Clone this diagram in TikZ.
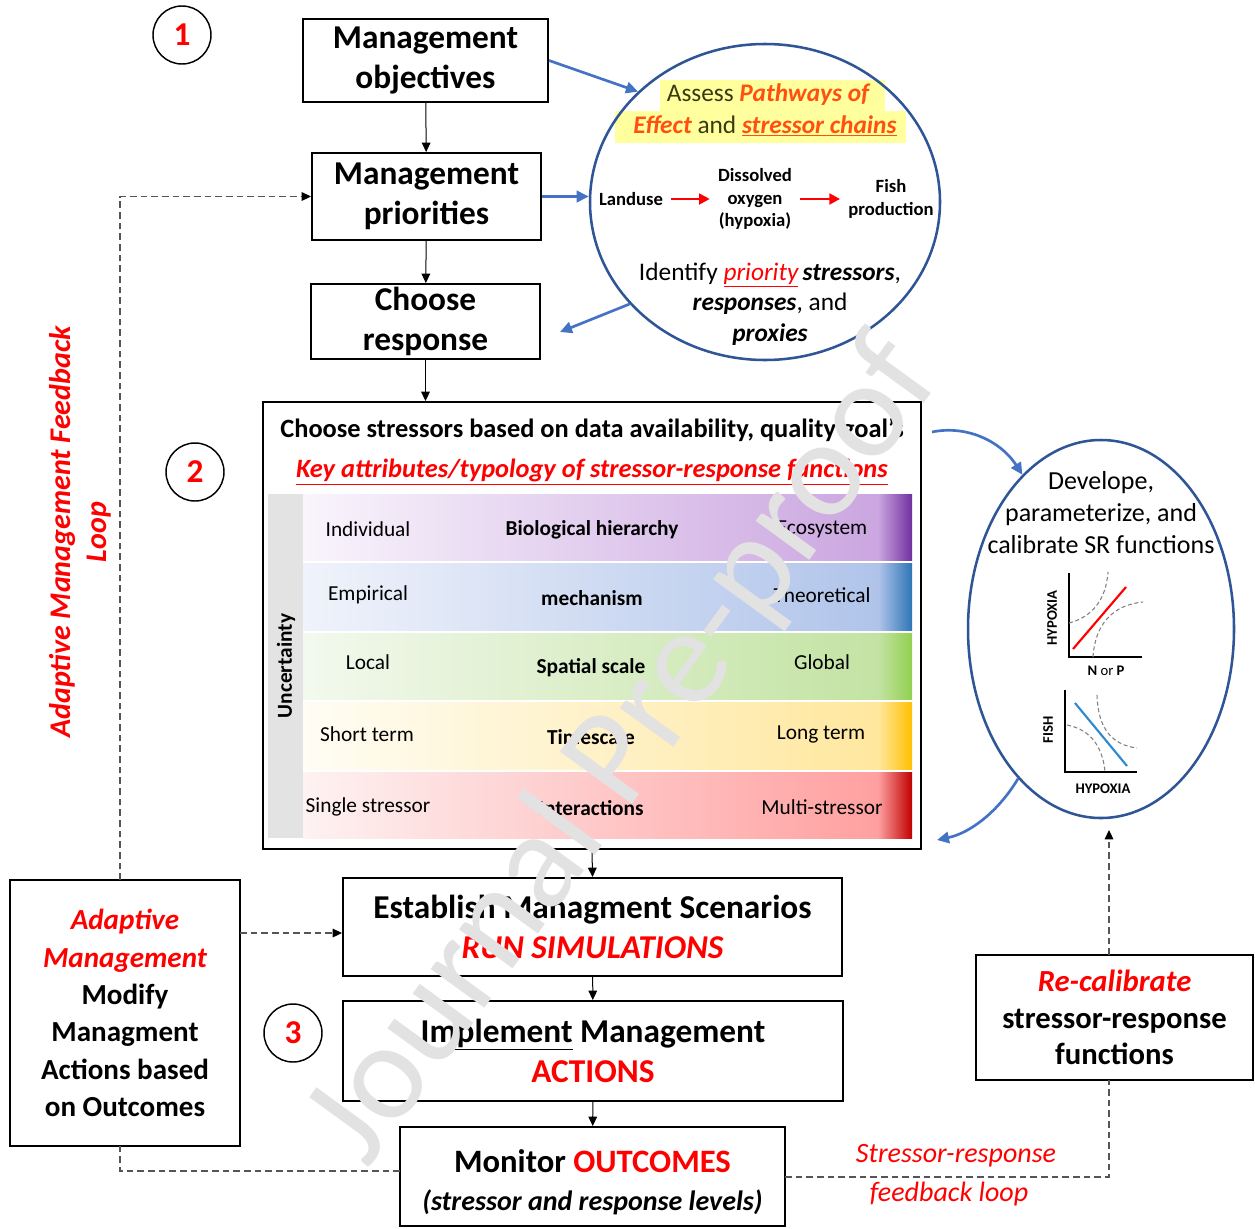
\documentclass[tikz,border=0pt]{standalone}
\usepackage{fontspec}
\setmainfont{Carlito}
\usetikzlibrary{shapes.geometric,arrows.meta}
\definecolor{cblue}{HTML}{2F5597}
\definecolor{ablue}{HTML}{4472C4}
\definecolor{lblue}{HTML}{2E8BD0}
\definecolor{cred}{HTML}{FF0000}
\definecolor{corng}{HTML}{FF5010}
\definecolor{colive}{HTML}{3A3A10}
\definecolor{hlyel}{HTML}{FFFF9E}
\definecolor{dgray}{HTML}{555555}
\definecolor{ugray}{HTML}{E3E3E3}
\definecolor{wmgray}{HTML}{E2E2E2}
\definecolor{pL}{HTML}{F9F5FC}\definecolor{pM}{HTML}{CBA6E0}\definecolor{pD}{HTML}{7030A0}
\definecolor{bL}{HTML}{F0F3FB}\definecolor{bM}{HTML}{B0C4EA}\definecolor{bD}{HTML}{2E75B6}
\definecolor{gL}{HTML}{F3F9EE}\definecolor{gM}{HTML}{C3E3A3}\definecolor{gD}{HTML}{92D050}
\definecolor{yL}{HTML}{FFFDF4}\definecolor{yM}{HTML}{FFE79E}\definecolor{yD}{HTML}{FFC000}
\definecolor{rL}{HTML}{FEF2F2}\definecolor{rM}{HTML}{FFA0A0}\definecolor{rD}{HTML}{C00000}
\newcommand\fs[2]{\fontsize{#1}{#2}\selectfont}
\newcommand\rowband[5]{%
  \shade[left color=#3, right color=#4] (303,#1) rectangle (878,#2);
  \shade[left color=#4, right color=#5] (878,#1) rectangle (912,#2);}
\begin{document}
\begin{tikzpicture}[x=0.75pt,y=-0.75pt,
  box/.style={draw, line width=1.5pt, align=center, inner sep=0pt, text=black},
  num/.style={draw, circle, line width=1.1pt, minimum size=43.5pt, inner sep=0pt, text=cred, font=\fs{25}{30}\bfseries},
  arr/.style={-{Triangle[length=7pt,width=6.5pt]}, line width=0.75pt},
  barr/.style={-{Triangle[length=9pt,width=8.5pt]}, ablue, line width=2pt},
  rarr/.style={-{Triangle[length=8pt,width=8pt]}, cred, line width=2pt},
  dsh/.style={dgray, line width=0.8pt, dash pattern=on 5pt off 3pt},
  darr/.style={dsh, -{Triangle[length=7pt,width=6.5pt,color=black]}},
  rowtxt/.style={font=\fs{16}{19}},
  rowhd/.style={font=\fs{16}{19}\bfseries},
  chain/.style={font=\fs{14}{17}\bfseries, align=center, inner sep=6pt},
  glab/.style={font=\fs{11}{13}\bfseries, inner sep=0pt},
  gdash/.style={gray, line width=0.8pt, dash pattern=on 3pt off 2pt}]
\fill[white] (0,0) rectangle (1255,1228);
\useasboundingbox (0,0) rectangle (1255,1228);

% numbered circles
\node[num] (n1) at (182,35) {1};
\node[num] (n2) at (195,472) {2};
\node[num] (n3) at (293,1033) {3};

% top boxes
\node[box, minimum width=183.75pt, minimum height=62.25pt, font=\fs{25}{30}\bfseries] (obj) at (425.5,60.5) {Management\\objectives};
\node[box, minimum width=171.75pt, minimum height=65.25pt, font=\fs{25}{30}\bfseries] (pri) at (426.5,196.5) {Management\\priorities};
\node[box, minimum width=171.75pt, minimum height=56.25pt, font=\fs{25}{30}\bfseries] (cho) at (425.5,321.5) {Choose\\response};

% top ellipse
\fill[hlyel] (660,80) rectangle (885,111);
\fill[hlyel] (615,111) rectangle (906,143);
\node[draw=cblue, line width=1.9pt, ellipse, minimum width=262.5pt, minimum height=237pt, inner sep=0pt] (circA) at (765,202) {};
\node[font=\fs{19}{22}, text=colive] (as1) at (768,95) {Assess \textcolor{corng}{\bfseries\itshape Pathways of}};
\node[font=\fs{19}{22}, text=colive] (as2) at (765,126) {\textcolor{corng}{\bfseries\itshape Effect} and \textcolor{corng}{\bfseries\itshape\underline{stressor chains}}};
\node[chain] (land) at (631,199) {Landuse};
\node[chain] (diss) at (755,199) {Dissolved\\oxygen\\(hypoxia)};
\node[chain] (fish) at (891,199) {Fish\\production};
\draw[rarr] (land) -- (diss);
\draw[rarr] (diss) -- (fish);
\node[font=\fs{19}{23}, align=center] (ident) at (770,304) {Identify \textcolor{cred}{\itshape\underline{priority}}\,\textbf{\textit{stressors}},\\ \textbf{\textit{responses}}, and\\ \textbf{\textit{proxies}}};

% table
\node[box, minimum width=493.5pt, minimum height=335.25pt] (tab) at (592,625.5) {};
\node[font=\fs{19.8}{23}\bfseries] (ttl) at (592,430) {Choose stressors based on data availability, quality goal's};
\node[font=\fs{19.8}{23}\bfseries\itshape, text=cred] (key) at (592,472) {\underline{Key attributes/typology of stressor-response functions}};
\fill[ugray] (268,494) rectangle (303,838);
\node[rotate=90, font=\fs{16}{19}\bfseries] (unc) at (286,666) {Uncertainty};
\rowband{494}{560}{pL}{pM}{pD}
\rowband{563}{630}{bL}{bM}{bD}
\rowband{633}{699}{gL}{gM}{gD}
\rowband{702}{769}{yL}{yM}{yD}
\rowband{772}{838}{rL}{rM}{rD}
\node[rowtxt] (r1a) at (368,529) {Individual};
\node[rowhd] (r1b) at (592,530) {Biological hierarchy};
\node[rowtxt] (r1c) at (822,529) {Ecosystem};
\node[rowtxt] (r2a) at (368,595) {Empirical};
\node[rowhd] (r2b) at (592,598) {mechanism};
\node[rowtxt] (r2c) at (822,595) {Theoretical};
\node[rowtxt] (r3a) at (368,662) {Local};
\node[rowhd] (r3b) at (591,668) {Spatial scale};
\node[rowtxt] (r3c) at (822,662) {Global};
\node[rowtxt] (r4a) at (367,734) {Short term};
\node[rowhd] (r4b) at (591,737) {Timescale};
\node[rowtxt] (r4c) at (821,734) {Long term};
\node[rowtxt] (r5a) at (368,807) {Single stressor};
\node[rowhd] (r5b) at (591,808) {Interactions};
\node[rowtxt] (r5c) at (822,807) {Multi-stressor};

% right ellipse
\node[draw=cblue, line width=1.9pt, ellipse, minimum width=199.5pt, minimum height=283.5pt, inner sep=0pt] (circB) at (1101,629) {};
\node[font=\fs{19.5}{24}, align=center] (dev) at (1101,513) {Develope,\\parameterize, and\\calibrate SR functions};
\draw[line width=1.3pt] (1069,573) -- (1069,657) -- (1142,657);
\draw[cred, line width=1.6pt] (1073,649) -- (1126,587);
\draw[gdash] (1069,623) .. controls (1092,617) and (1106,600) .. (1108,572);
\draw[gdash] (1093,657) .. controls (1095,625) and (1112,605) .. (1143,602);
\node[glab, rotate=90] (hyp1) at (1052,618) {HYPOXIA};
\node[glab] (np) at (1106,671) {N {\mdseries or} P};
\draw[line width=1.3pt] (1065,690) -- (1065,772) -- (1137,772);
\draw[lblue, line width=1.6pt] (1075,703) -- (1127,766);
\draw[gdash] (1067,725) .. controls (1093,730) and (1103,750) .. (1105,772);
\draw[gdash] (1097,695) .. controls (1098,730) and (1113,745) .. (1137,748);
\node[glab, rotate=90] (fishl) at (1048,730) {FISH};
\node[glab] (hyp2) at (1103,789) {HYPOXIA};

% bottom boxes
\node[box, minimum width=374.25pt, minimum height=73.5pt, font=\fs{25}{30}\bfseries] (est) at (592.5,927) {Establish Managment Scenarios\\\textcolor{cred}{\itshape RUN SIMULATIONS}};
\node[box, minimum width=375pt, minimum height=75pt, font=\fs{25}{30}\bfseries] (imp) at (593,1051) {\underline{Implement} Management\\\textcolor{cred}{ACTIONS}};
\node[box, minimum width=288.75pt, minimum height=74.25pt, font=\fs{24.5}{29}\bfseries] (mon) at (592.5,1176.5) {\rule{0pt}{26pt}Monitor \textcolor{cred}{OUTCOMES}\\[-1pt]\fs{21}{27}\itshape(stressor and response levels)};
\node[box, minimum width=172.5pt, minimum height=199.5pt, font=\fs{21.8}{28}\bfseries] (am) at (125,1013) {\textcolor{cred}{\itshape Adaptive}\\\textcolor{cred}{\itshape Management}\\Modify\\Managment\\Actions based\\on Outcomes};
\node[box, minimum width=207.75pt, minimum height=93.75pt, font=\fs{23}{27.5}\bfseries] (rec) at (1114.5,1017.5) {\textcolor{cred}{\itshape Re-calibrate}\\stressor-response\\functions};

% solid connectors
\draw[arr] (obj) -- (pri);
\draw[arr] (pri) -- (cho);
\draw[arr] (cho.south) -- (cho.south |- tab.north);
\draw[arr] (tab.south) -- (est.north);
\draw[arr] (est) -- (imp);
\draw[arr] (imp) -- (mon);

% blue connectors
\draw[barr] (obj.east) -- (circA.139);
\draw[barr] (pri.east) -- (pri.east -| circA.west);
\coordinate (choIn) at (560,332);
\draw[barr] (circA.217) -- (choIn);
\coordinate (tabOut) at (932,432);
\draw[barr] (tabOut) .. controls (965,425) and (1000,440) .. (circB.117);
\coordinate (tabIn) at (937,840);
\draw[barr] (circB.241) .. controls (998,812) and (970,833) .. (tabIn);

% dashed loops
\coordinate (amTop) at (120,880);
\draw[darr] (amTop) |- (pri.west);
\coordinate (amBot) at (120,1146);
\coordinate (monL) at (400,1171);
\draw[dsh] (monL) -| (amBot);
\coordinate (amR) at (240,933);
\draw[darr] (amR) -- (amR -| est.west);
\coordinate (monR) at (785,1177);
\coordinate (recBot) at (1109,1080);
\draw[dsh] (monR) -| (recBot);
\coordinate (recTop) at (1109,955);
\coordinate (circBIn) at (1109,830);
\draw[darr] (recTop) -- (circBIn);

\node[font=\fs{21}{25}\itshape, text=cred] (srl1) at (956,1156) {Stressor-response};
\node[font=\fs{21}{25}\itshape, text=cred] (srl2) at (949,1194) {feedback loop};
\node[rotate=90, font=\fs{22.5}{27}\bfseries\itshape, text=cred, align=center] (aml) at (80,532) {Adaptive Management Feedback\\Loop};

% watermark
\node[rotate=54, text=wmgray, font=\fs{104}{104}] (wm) at (625,752) {Journal Pre-proof};
\end{tikzpicture}
\end{document}
